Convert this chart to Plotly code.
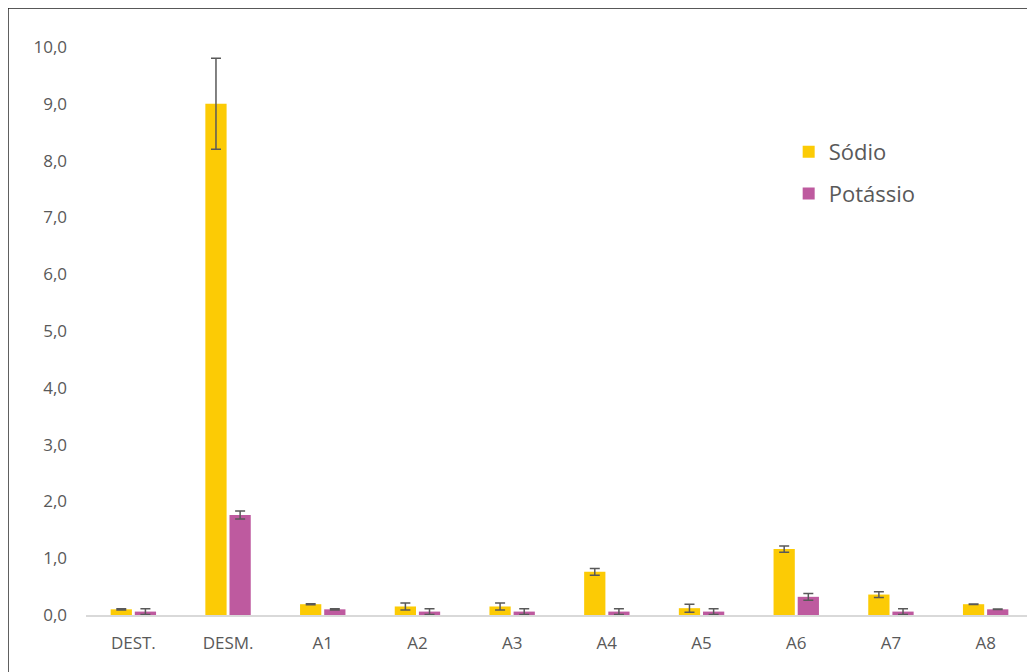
import plotly.graph_objects as go

categories = ["DEST.", "DESM.", "A1", "A2", "A3", "A4", "A5", "A6", "A7", "A8"]
sodio = [0.10, 9.00, 0.19, 0.15, 0.15, 0.76, 0.12, 1.16, 0.36, 0.19]
sodio_err = [0.01, 0.80, 0.01, 0.06, 0.06, 0.06, 0.07, 0.055, 0.05, 0.005]
potassio = [0.06, 1.76, 0.10, 0.06, 0.06, 0.06, 0.06, 0.32, 0.06, 0.10]
potassio_err = [0.05, 0.07, 0.01, 0.05, 0.05, 0.05, 0.05, 0.06, 0.05, 0.005]
yticks = [0, 1, 2, 3, 4, 5, 6, 7, 8, 9, 10]

font_family = "Open Sans"
gray = "#595959"

fig = go.Figure()
fig.add_trace(go.Bar(
    x=categories, y=sodio, name="Sódio", legendgroup="s",
    marker=dict(color="#FCCB05", line=dict(width=0)),
    error_y=dict(type="data", array=sodio_err, visible=True, color=gray, thickness=1.5, width=5),
))
fig.add_trace(go.Bar(
    x=categories, y=potassio, name="Potássio", legendgroup="p",
    marker=dict(color="#BE5A9F", line=dict(width=0)),
    error_y=dict(type="data", array=potassio_err, visible=True, color=gray, thickness=1.5, width=5),
))

fig.update_layout(
    width=1027, height=664,
    margin=dict(l=78, r=2, t=39, b=57),
    paper_bgcolor="white", plot_bgcolor="white",
    barmode="group", bargap=0.49, bargroupgap=0.12,
    font=dict(family=font_family, color=gray, size=17),
    separators=",.",
    showlegend=True,
    legend=dict(x=0.742, y=0.852, xanchor="left", yanchor="top",
                font=dict(size=22, color=gray), bgcolor="rgba(0,0,0,0)",
                itemwidth=30, tracegroupgap=10),
    xaxis=dict(showline=True, linecolor="#D9D9D9", linewidth=1.5, ticks="",
               showgrid=False, tickfont=dict(size=17, color=gray), ticklabelstandoff=12),
    yaxis=dict(range=[0, 10], tickvals=yticks, tickformat=".1f", showgrid=False,
               zeroline=False, showline=False, ticks="", ticklabelstandoff=18,
               tickfont=dict(size=17, color=gray)),
    shapes=[dict(type="rect", xref="paper", yref="paper",
                 x0=-0.0824, x1=1.01, y0=-0.12, y1=1.0687,
                 line=dict(color="#222222", width=1.5), fillcolor="rgba(0,0,0,0)", layer="below")],
)

fig.write_html("out.html")
